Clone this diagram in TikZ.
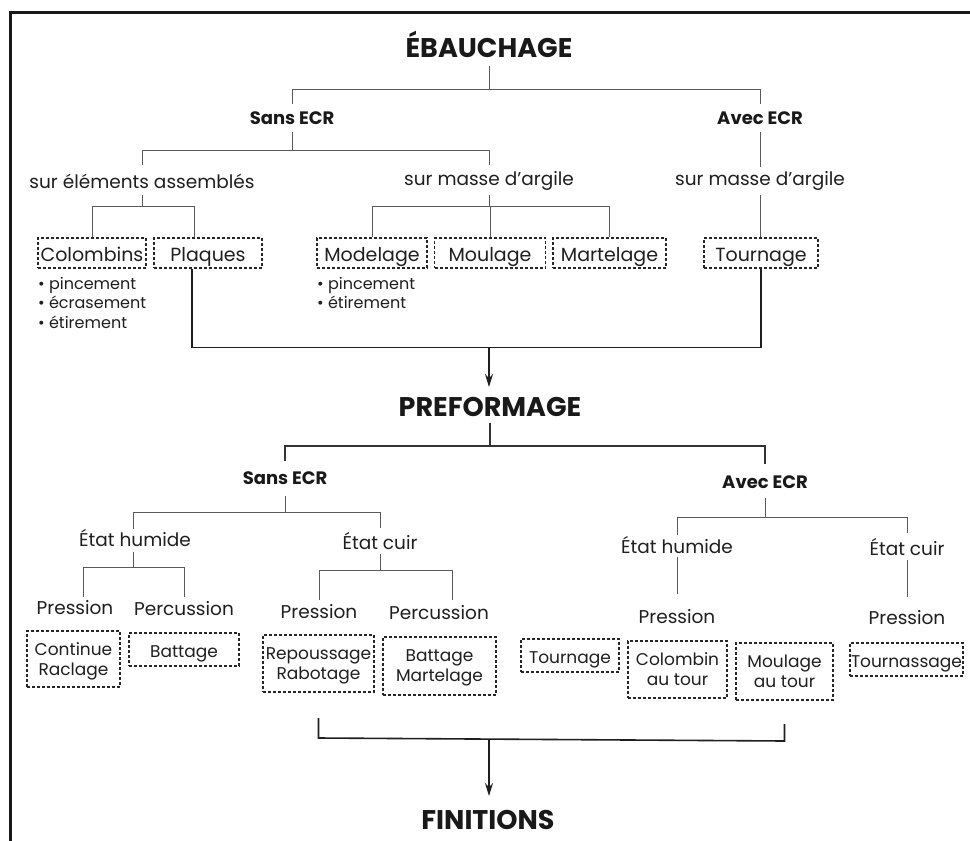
\documentclass[tikz,border=0pt]{standalone}
\usepackage{fontspec}
\setmainfont{Poppins}
\usetikzlibrary{arrows.meta}
\begin{document}
\begin{tikzpicture}[x=1pt,y=-1pt,
  txt/.style={inner sep=0pt, font=\fontsize{18.5}{21}\selectfont, text=black!88},
  head/.style={inner sep=0pt, font=\fontsize{27}{30}\selectfont\bfseries, text=black!90},
  sub/.style={inner sep=0pt, font=\fontsize{18}{21}\selectfont\bfseries, text=black!90},
  bul/.style={inner sep=0pt, align=left, font=\fontsize{16}{19.5}\selectfont, text=black!88},
  box/.style={draw=black!85, dash pattern=on 3pt off 2pt, line width=1.2pt, inner sep=0pt, align=center, text=black!88},
  boxa/.style={box, font=\fontsize{19}{22}\selectfont, minimum height=30, text height=16pt, text depth=0pt},
  boxb/.style={box, font=\fontsize{17}{20}\selectfont, text depth=0pt},
  one/.style={text height=15pt},
  tree/.style={draw=black!65, line width=0.8pt},
  treeb/.style={draw=black!80, line width=1.2pt},
  flow/.style={draw=black!88, line width=1.6pt},
  tip/.style={-{Stealth[length=13pt,width=8pt]}},
]
\useasboundingbox (0,0) rectangle (970,841);
\fill[white] (0,0) rectangle (970,841);
\draw[line width=3pt, black!90] (10,860) -- (10,12) -- (990,12);

% ---------- EBAUCHAGE ----------
\node[head] (eb) at (489,44) {ÉBAUCHAGE};
\node[sub] (sa1) at (292,118) {Sans ECR};
\node[sub] (aa1) at (760,118) {Avec ECR};
\node[txt] (se) at (142,181) {sur éléments assemblés};
\node[txt] (sm1) at (489,181) {sur masse d'argile};
\node[txt] (sm2) at (760,181) {sur masse d'argile};

\node[boxa, minimum width=108] (col) at (92,253) {Colombins};
\node[boxa, minimum width=108] (pla) at (208,253) {Plaques};
\node[boxa, minimum width=110] (mod) at (372,253) {Modelage};
\node[boxa, minimum width=111] (mou) at (490,253) {Moulage};
\node[boxa, minimum width=113] (mar) at (609.5,253) {Martelage};
\node[boxa, minimum width=114] (tou) at (761,253) {Tournage};

\node[bul, anchor=north west] (bl1) at (38,277) {\textbullet\ pincement\\\textbullet\ écrasement\\\textbullet\ étirement};
\node[bul, anchor=north west] (bl2) at (317,277) {\textbullet\ pincement\\\textbullet\ étirement};

\draw[tree] (eb.south |- 0,66) -- (eb.south |- 0,89);
\draw[tree] (sa1.north |- 0,104) |- (aa1.north |- 0,89) -- (aa1.north |- 0,104);
\draw[tree] (sa1.south |- 0,132) -- (sa1.south |- 0,150);
\draw[tree] (se.north |- 0,165) |- (sm1.north |- 0,150) -- (sm1.north |- 0,165);
\draw[tree] (aa1.south |- 0,132) -- (sm2.north |- 0,167);
\draw[tree] (se.south |- 0,195) -- (se.south |- 0,206);
\draw[tree] (col.north) |- ([xshift=-14pt]pla.north |- 0,206) -- ([xshift=-14pt]pla.north);
\draw[tree] (sm1.south |- 0,195) -- (sm1.south |- 0,206);
\draw[tree] (mod.north) |- (mar.north |- 0,206) -- (mar.north);
\draw[tree] (mou.north |- 0,206) -- (mou.north);
\draw[tree] (sm2.south |- 0,195) -- (sm2.south |- tou.north);

% flow to preformage
\node[head] (pre) at (490,407) {PREFORMAGE};
\coordinate (j1) at (489,347.5);
\draw[flow] ([xshift=-16pt]pla.south) |- (tou.south |- j1) -- (tou.south);
\draw[flow, tip] (j1) -- (j1 |- 0,387);

% ---------- PREFORMAGE ----------
\node[sub] (sa2) at (285,478) {Sans ECR};
\node[sub] (aa2) at (765,482) {Avec ECR};
\draw[treeb] (pre.south |- 0,423) -- (pre.south |- 0,446);
\draw[treeb] (sa2.north |- 0,461) |- (aa2.north |- 0,446) -- (aa2.north |- 0,464);

\node[txt] (eh1) at (135,538) {État humide};
\node[txt] (ec1) at (380,541) {État cuir};
\draw[tree] (sa2.south |- 0,496) -- (sa2.south |- 0,512);
\draw[tree] ([xshift=-2pt]eh1.north |- 0,529) |- (ec1.north |- 0,512) -- (ec1.north |- 0,528);

\node[txt] (pr1) at (75,608) {Pression};
\node[txt] (pc1) at (184,609) {Percussion};
\draw[tree] ([xshift=-2pt]eh1.south |- 0,552) -- ([xshift=-2pt]eh1.south |- 0,567);
\draw[tree] ([xshift=8pt]pr1.north |- 0,597) |- (pc1.north |- 0,567) -- (pc1.north |- 0,597);

\node[txt] (pr2) at (319,612) {Pression};
\node[txt] (pc2) at (439,613) {Percussion};
\draw[tree] (ec1.south |- 0,554) -- (ec1.south |- 0,570);
\draw[tree] (pr2.north |- 0,600) |- ([xshift=13pt]pc2.north |- 0,570) -- ([xshift=13pt]pc2.north |- 0,600);

\node[boxb, minimum width=93, minimum height=56] (cr) at (73.5,659) {Continue\\Raclage};
\node[boxb, one, minimum width=110, minimum height=33] (bat) at (184,649.5) {Battage};
\node[boxb, minimum width=111, minimum height=57] (rr) at (318.5,663.5) {Repoussage\\Rabotage};
\node[boxb, minimum width=113, minimum height=58] (bm) at (439.5,666) {Battage\\Martelage};

\node[txt] (eh2) at (677,545) {État humide};
\node[txt] (ec2) at (907,547) {État cuir};
\draw[tree] (aa2.south |- 0,498) -- (aa2.south |- 0,517);
\draw[tree] (eh2.north |- 0,535) |- (ec2.north |- 0,517) -- (ec2.north |- 0,533);

\node[txt] (pr3) at (677,617) {Pression};
\node[txt] (pr4) at (907,618) {Pression};
\draw[tree] (eh2.south |- 0,557) -- (pr3.north |- 0,594);
\draw[tree] (ec2.south |- 0,560) -- (pr4.north |- 0,597);

\node[boxb, one, minimum width=98, minimum height=33] (tg) at (570,655.5) {Tournage};
\node[boxb, minimum width=99, minimum height=57] (cat) at (677.5,669.5) {Colombin\\au tour};
\node[boxb, minimum width=97, minimum height=57] (mat) at (784.5,671.5) {Moulage\\au tour};
\node[boxb, one, minimum width=113, minimum height=33] (tss) at (906.5,659.5) {Tournassage};

% ---------- FINITIONS ----------
\node[head] (fin) at (488,820) {FINITIONS};
\coordinate (j2) at (489,739.5);
\draw[flow] (rr.south |- 0,718) -- (rr.south |- 0,738) -- (mat.south |- 0,741) -- (mat.south |- 0,724);
\draw[flow, tip] (j2) -- (j2 |- 0,796);
\end{tikzpicture}
\end{document}
